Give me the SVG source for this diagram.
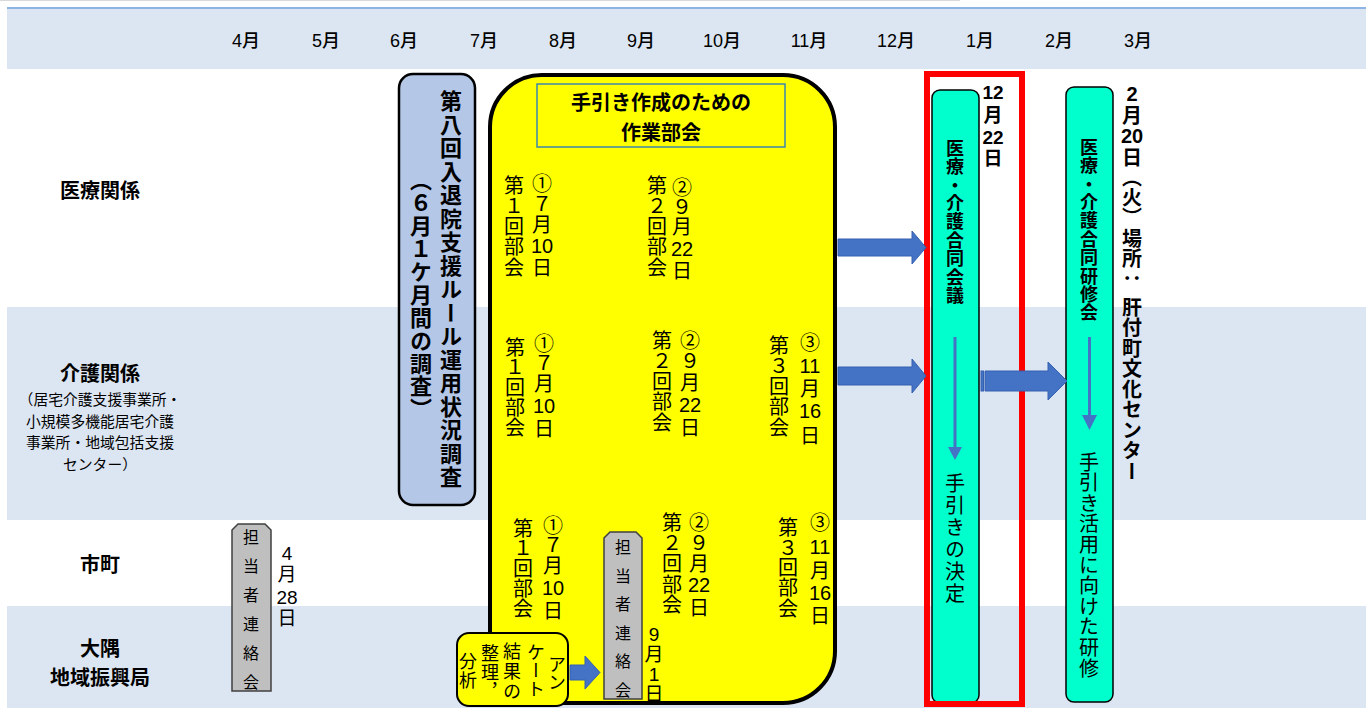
<svg xmlns="http://www.w3.org/2000/svg" width="1366" height="708" viewBox="0 0 1366 708">
<style>
text, tspan { font-family: "Noto Sans CJK JP", "Noto Sans", sans-serif; dominant-baseline: central; text-anchor: middle; fill: #000; }
.vt { writing-mode: vertical-rl; text-anchor: start; }
.d { font-family: "Liberation Sans", Arial, sans-serif; }
.m { font-family: "Liberation Sans", "Noto Sans CJK JP", sans-serif; font-size: 18px; font-weight: 500; }
.rl { font-size: 20px; font-weight: bold; }
.sub { font-size: 14.8px; }
.v20 { font-size: 20px; }
.v18 { font-size: 18px; }
.v16 { font-size: 16px; }
.v19 { font-size: 19px; }
.vb22 { font-size: 22px; font-weight: bold; }
.vb18 { font-size: 18px; font-weight: bold; }
.vb19 { font-size: 19px; font-weight: bold; }
.vb20 { font-size: 20px; font-weight: bold; }
.arr { fill: #4472c4; stroke: #3461b0; stroke-width: 1; }
.tag { fill: #bfbfbf; stroke: #404040; stroke-width: 1.5; }
.teal { fill: #00ffcc; stroke: #000; stroke-width: 1.5; }
.dl { stroke: #4472c4; stroke-width: 3; fill: none; }
.dh { fill: #4472c4; }
</style>

<g id="background">
<rect x="0" y="0" width="1366" height="708" fill="#ffffff"/>
<line x1="0" y1="0.5" x2="960" y2="0.5" stroke="#d9d9d9"/>
<rect x="7" y="9" width="1359" height="60" fill="#dce6f2"/>
<line x1="7" y1="8" x2="1366" y2="8" stroke="#8eb4e3" stroke-width="2"/>
<rect x="7" y="307" width="1359" height="213" fill="#dce6f2"/>
<rect x="7" y="606" width="1359" height="102" fill="#dce6f2"/>
</g>

<g id="months">
<text class="m" x="246" y="41">4月</text>
<text class="m" x="326" y="41">5月</text>
<text class="m" x="404" y="41">6月</text>
<text class="m" x="484" y="41">7月</text>
<text class="m" x="563" y="41">8月</text>
<text class="m" x="641" y="41">9月</text>
<text class="m" x="722" y="41">10月</text>
<text class="m" x="809" y="41">11月</text>
<text class="m" x="896" y="41">12月</text>
<text class="m" x="980" y="41">1月</text>
<text class="m" x="1059" y="41">2月</text>
<text class="m" x="1138" y="41">3月</text>
</g>

<g id="row-labels">
<text class="rl" x="100" y="189">医療関係</text>
<text class="rl" x="100" y="372">介護関係</text>
<text class="sub"><tspan x="100" y="398">（居宅介護支援事業所・</tspan><tspan x="100" y="419.5">小規模多機能居宅介護</tspan><tspan x="100" y="441">事業所・地域包括支援</tspan><tspan x="100" y="462.5">センター）</tspan></text>
<text class="rl" x="100" y="563">市町</text>
<text class="rl"><tspan x="100" y="647">大隅</tspan><tspan x="100" y="676">地域振興局</tspan></text>
</g>

<g id="survey">
<rect x="399" y="74" width="76" height="431" rx="14" fill="#b4c7e7" stroke="#000" stroke-width="2.5"/>
<text class="vt vb22" x="451" y="90" letter-spacing="1.5">第八回入退院支援ルール運用状況調査</text>
<text class="vt vb22" x="421" y="169" letter-spacing="0.9">（６月１ケ月間の調査）</text>
</g>

<g id="working-group">
<rect x="490" y="75" width="345" height="628" rx="52" fill="#ffff00" stroke="#000" stroke-width="4"/>
<rect x="537" y="84" width="248" height="63" fill="#ffff00" stroke="#3a87ad" stroke-width="1.5"/>
<text class="vb20"><tspan x="661" y="101">手引き作成のための</tspan><tspan x="661" y="130.5">作業部会</tspan></text>
<!-- row 1 -->
<text class="vt v20" x="514" y="175" letter-spacing="0.5">第１回部会</text>
<text class="vt v20" x="542" y="173" letter-spacing="0.5">①７月</text>
<text class="v20 d" x="542" y="246">10</text>
<text class="vt v20" x="542" y="257">日</text>
<text class="vt v20" x="657" y="175" letter-spacing="0.5">第２回部会</text>
<text class="vt v20" x="682" y="177" letter-spacing="-0.5">②９月</text>
<text class="v20 d" x="682" y="249">22</text>
<text class="vt v20" x="682" y="260">日</text>
<!-- row 2 -->
<text class="vt v20" x="515" y="337">第１回部会</text>
<text class="vt v20" x="544" y="333">①７月</text>
<text class="v20 d" x="544" y="406">10</text>
<text class="vt v20" x="544" y="418">日</text>
<text class="vt v20" x="662" y="330" letter-spacing="0.5">第２回部会</text>
<text class="vt v20" x="690" y="330" letter-spacing="1">②９月</text>
<text class="v20 d" x="690" y="405">22</text>
<text class="vt v20" x="690" y="417">日</text>
<text class="vt v20" x="779" y="335" letter-spacing="0.5">第３回部会</text>
<text class="vt v20" x="810" y="332">③</text>
<text class="v20 d" x="810" y="366">11</text>
<text class="vt v20" x="810" y="378">月</text>
<text class="v20 d" x="810" y="411">16</text>
<text class="vt v20" x="810" y="425">日</text>
<!-- row 3 -->
<text class="vt v20" x="523" y="518">第１回部会</text>
<text class="vt v20" x="553" y="515">①７月</text>
<text class="v20 d" x="553" y="588">10</text>
<text class="vt v20" x="553" y="600">日</text>
<text class="vt v20" x="672" y="512" letter-spacing="0.7">第２回部会</text>
<text class="vt v20" x="699" y="512" letter-spacing="0.5">②９月</text>
<text class="v20 d" x="699" y="585">22</text>
<text class="vt v20" x="699" y="597">日</text>
<text class="vt v20" x="788" y="517" letter-spacing="0.3">第３回部会</text>
<text class="vt v20" x="820" y="512">③</text>
<text class="v20 d" x="820" y="547">11</text>
<text class="vt v20" x="820" y="560">月</text>
<text class="v20 d" x="820" y="593">16</text>
<text class="vt v20" x="820" y="605">日</text>
</g>

<g id="liaison-1">
<path class="tag" d="M232,530 L238,524 L265,524 L271,530 L271,691 L232,691 Z"/>
<text class="vt v16" x="251" y="529" letter-spacing="13">担当者連絡会</text>
<text class="v19 d" x="287" y="553">4</text>
<text class="vt v19" x="287" y="564.5">月</text>
<text class="v19 d" x="287" y="597">28</text>
<text class="vt v19" x="287" y="608.5">日</text>
</g>

<g id="survey-analysis">
<rect x="457" y="633" width="111" height="73" rx="12" fill="#ffff00" stroke="#000" stroke-width="2"/>
<text class="vt v18" x="557" y="655">アン</text>
<text class="vt v18" x="536" y="643" letter-spacing="0.5">ケート</text>
<text class="vt v18" x="512" y="642" letter-spacing="2">結果の</text>
<text class="vt v18" x="490" y="644" letter-spacing="1">整理，</text>
<text class="vt v18" x="468" y="652" letter-spacing="1">分析</text>
</g>

<g id="liaison-2">
<path class="tag" d="M604,538 L610,532 L636,532 L642,538 L642,699 L604,699 Z"/>
<text class="vt v16" x="623" y="539" letter-spacing="12.6">担当者連絡会</text>
<text class="v19 d" x="654" y="634">9</text>
<text class="vt v19" x="654" y="644.5">月</text>
<text class="v19 d" x="654" y="674">1</text>
<text class="vt v19" x="654" y="684.5">日</text>
</g>

<g id="joint-meeting">
<rect class="teal" x="932" y="90" width="47" height="613" rx="8"/>
<text class="vt vb18" x="955" y="139" letter-spacing="0.4">医療・介護合同会議</text>
<line class="dl" x1="955" y1="337" x2="955" y2="449"/>
<polygon class="dh" points="948,447 962,447 955,460"/>
<text class="vt v20" x="955" y="473" letter-spacing="2">手引きの決定</text>
<text class="vb19 d" x="993" y="92">12</text>
<text class="vt vb19" x="993" y="105.5">月</text>
<text class="vb19 d" x="993" y="137">22</text>
<text class="vt vb19" x="993" y="148.5">日</text>
<rect x="927" y="74" width="95" height="630" fill="none" stroke="#ff0000" stroke-width="6"/>
</g>

<g id="joint-training">
<rect class="teal" x="1066" y="87" width="47" height="615" rx="8"/>
<text class="vt vb18" x="1089" y="138" letter-spacing="0.4">医療・介護合同研修会</text>
<line class="dl" x1="1089.5" y1="337" x2="1089.5" y2="417"/>
<polygon class="dh" points="1082,415 1097,415 1089.5,430"/>
<text class="vt v20" x="1089" y="452" letter-spacing="0.6">手引き活用に向けた研修</text>
<text class="vb20 d" x="1132" y="94">2</text>
<text class="vt vb20" x="1132" y="105.5">月</text>
<text class="vb20 d" x="1132" y="136">20</text>
<text class="vt vb20" x="1132" y="147.5">日（火）</text>
<text class="vt vb20" x="1132" y="228">場所：</text>
<text class="vt vb20" x="1132" y="297" letter-spacing="0.5">肝付町文化センター</text>
</g>

<g id="connectors">
<path class="arr" d="M838,239 H912 V231 L926,247.5 L912,264 V256 H838 Z"/>
<path class="arr" d="M838,367 H912 V359 L926,376 L912,393 V385 H838 Z"/>
<rect class="arr" x="981" y="371" width="2.5" height="20"/>
<path class="arr" d="M985,371 H1048 V362 L1067,381 L1048,400 V391 H985 Z"/>
<path class="arr" d="M570,665 H585 V656 L600,672.5 L585,689 V680 H570 Z"/>
</g>
</svg>
